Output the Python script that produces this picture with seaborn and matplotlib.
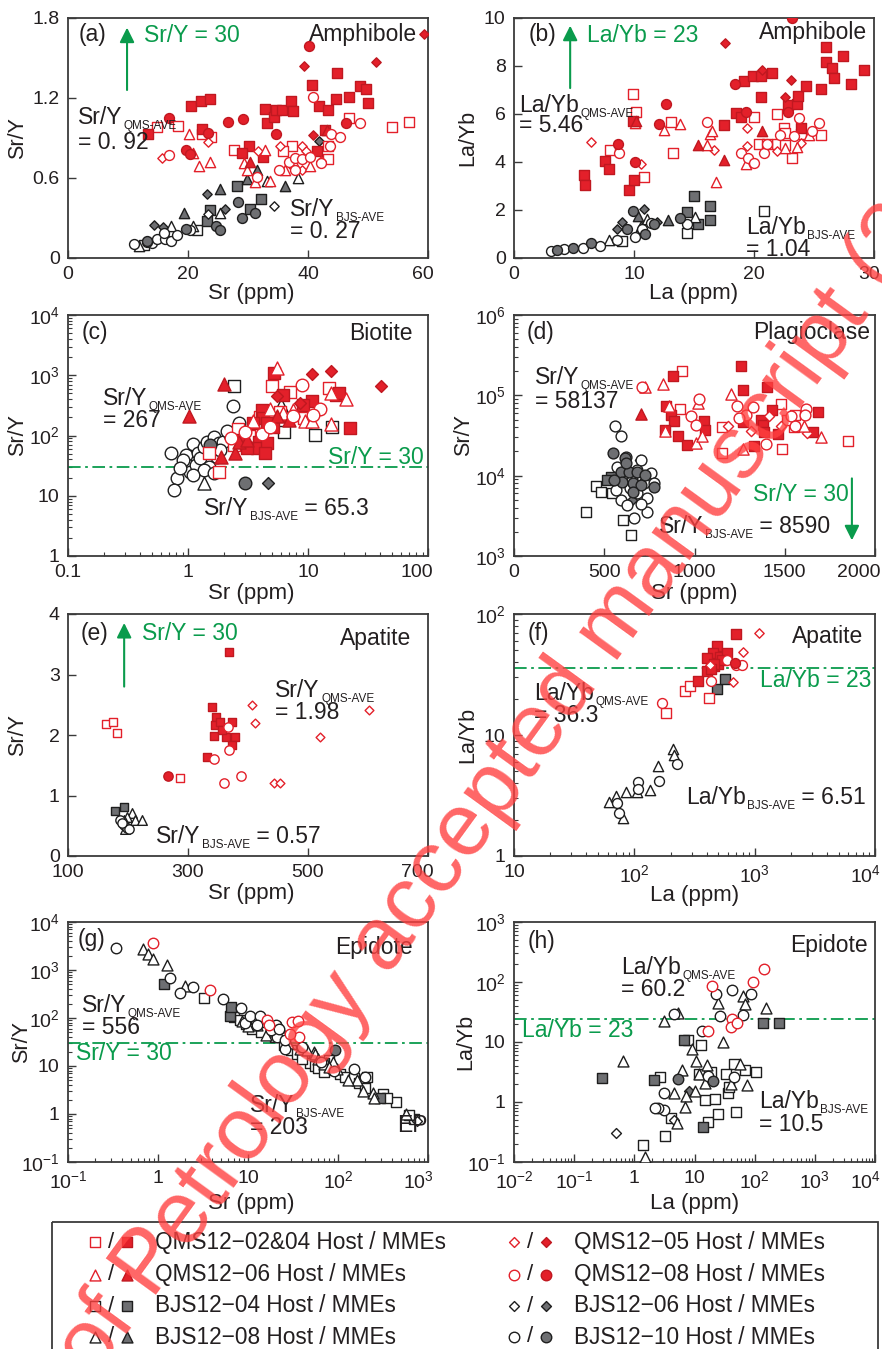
import matplotlib
matplotlib.use("Agg")
import matplotlib.pyplot as plt
import numpy as np
import pandas as pd
import seaborn as sns
from matplotlib.patches import Rectangle
from matplotlib.ticker import NullLocator, NullFormatter
from matplotlib.transforms import ScaledTranslation

# ---------------------------------------------------------------- data
# (a) amphibole, Sr (ppm) vs Sr/Y
AMPH_SR_Q0204_HOST = [(14.8, 0.98), (18.3, 0.99), (22.3, 0.93), (23.8, 0.91), (27.6, 0.81), (37.3, 0.84),
                      (35.9, 0.80), (43.4, 0.74), (43.4, 0.84), (46.8, 1.05), (54.0, 0.98), (56.8, 1.02)]
AMPH_SR_Q0204_MME = [(13.4, 0.93), (20.5, 1.14), (22.1, 1.18), (23.7, 1.19), (22.3, 0.97), (30.1, 0.84),
                     (29.0, 0.79), (32.5, 0.76), (32.8, 1.12), (33.2, 1.01), (34.3, 1.06), (34.6, 1.11),
                     (35.6, 1.11), (37.2, 1.18), (37.5, 1.10), (40.6, 1.30), (41.8, 1.14), (43.3, 1.11),
                     (44.8, 1.39), (44.6, 1.19), (41.5, 0.80), (42.9, 0.96), (46.9, 1.21), (48.6, 1.29),
                     (49.7, 1.27), (50.0, 1.16)]
AMPH_SR_Q05_HOST = [(15.6, 0.75), (23.4, 0.87), (31.7, 0.80), (35.4, 0.84), (39.0, 0.84), (39.6, 0.80),
                    (39.0, 0.66), (42.1, 0.73), (45.4, 0.91)]
AMPH_SR_Q05_MME = [(59.3, 1.68), (51.3, 1.47), (39.4, 1.44), (40.9, 0.92)]
AMPH_SR_Q06_HOST = [(20.1, 0.93), (20.9, 0.79), (21.8, 0.69), (23.7, 0.72), (29.3, 0.71), (29.8, 0.66),
                    (32.9, 0.81), (33.6, 0.58), (31.2, 0.57), (36.2, 0.66), (37.6, 0.71), (40.4, 0.69)]
AMPH_SR_Q06_MME = [(30.4, 0.72), (43.2, 0.96)]
AMPH_SR_Q08_HOST = [(16.9, 0.77), (31.5, 0.61), (35.1, 0.66), (36.9, 0.72), (37.9, 0.75), (39.0, 0.74),
                    (40.4, 0.76), (40.9, 1.21), (43.7, 0.84), (43.9, 0.93), (45.3, 0.91), (48.7, 1.01),
                    (42.1, 0.71), (37.9, 0.66)]
AMPH_SR_Q08_MME = [(16.8, 1.05), (19.6, 0.81), (20.4, 0.78), (23.4, 0.94), (26.6, 1.02), (29.2, 1.04),
                   (34.6, 0.93), (40.1, 1.59), (46.4, 1.01)]
AMPH_SR_B04_HOST = [(21.5, 0.21), (12.6, 0.10)]
AMPH_SR_B04_MME = [(28.1, 0.54), (23.6, 0.36), (23.1, 0.28), (30.4, 0.37), (32.2, 0.44)]
AMPH_SR_B06_HOST = [(34.3, 0.39), (23.4, 0.33)]
AMPH_SR_B06_MME = [(14.4, 0.25), (23.2, 0.48), (26.1, 0.37), (41.9, 0.88), (15.9, 0.23)]
AMPH_SR_B08_HOST = [(38.3, 0.60), (33.2, 0.58), (25.4, 0.34), (17.1, 0.24), (11.8, 0.09), (20.9, 0.24)]
AMPH_SR_B08_MME = [(19.4, 0.34), (25.4, 0.52), (29.8, 0.59), (31.5, 0.66), (36.2, 0.54)]
AMPH_SR_B10_HOST = [(11.0, 0.105), (14.0, 0.11), (14.8, 0.14), (16.2, 0.14), (17.1, 0.13), (18.2, 0.175),
                    (20.4, 0.21), (16.0, 0.19), (13.2, 0.12)]
AMPH_SR_B10_MME = [(13.2, 0.125), (19.6, 0.22), (24.6, 0.24), (25.4, 0.21), (28.3, 0.42), (29.0, 0.30),
                   (31.2, 0.34)]

# (b) amphibole, La (ppm) vs La/Yb
AMPH_LA_Q0204_HOST = [(9.9, 6.84), (10.2, 6.1), (8.0, 4.52), (10.8, 3.37), (13.1, 5.65), (13.25, 4.39),
                      (20.0, 5.89), (21.9, 5.99), (20.4, 4.74), (21.9, 4.74), (22.5, 5.4), (22.6, 4.7),
                      (23.2, 4.17), (23.9, 5.16), (25.6, 5.12), (22.6, 5.19), (21.1, 4.77)]
AMPH_LA_Q0204_MME = [(5.8, 3.44), (5.9, 3.06), (7.6, 4.04), (7.9, 3.72), (9.6, 2.85), (10.0, 3.23),
                     (9.9, 5.71), (17.5, 5.54), (18.5, 6.03), (18.9, 5.89), (19.2, 7.39), (19.9, 7.57),
                     (20.6, 7.57), (20.6, 6.69), (21.5, 7.71), (22.8, 6.38), (23.6, 6.41), (23.7, 6.77),
                     (24.3, 7.15), (23.9, 5.4), (25.6, 7.05), (26.0, 8.16), (26.0, 8.79), (26.5, 7.9),
                     (26.7, 7.5), (27.4, 8.42), (28.1, 7.27), (29.2, 7.85)]
AMPH_LA_Q05_HOST = [(6.4, 4.84), (10.6, 3.93), (16.7, 4.52), (19.4, 5.4), (19.4, 4.66), (21.9, 4.45),
                    (23.9, 4.81)]
AMPH_LA_Q05_MME = [(17.6, 8.95), (23.1, 7.43), (20.7, 7.85), (22.6, 6.7)]
AMPH_LA_Q06_HOST = [(10.1, 5.61), (12.5, 5.33), (13.8, 5.58), (16.1, 4.70), (16.3, 5.16), (16.5, 5.29),
                    (16.8, 3.16), (19.3, 3.9), (22.6, 4.6), (23.6, 4.63), (24.6, 5.12)]
AMPH_LA_Q06_MME = [(15.3, 4.7), (17.5, 4.1), (20.7, 5.3), (10.2, 5.71)]
AMPH_LA_Q08_HOST = [(8.75, 4.39), (16.1, 5.68), (18.9, 4.39), (19.5, 4.18), (20.0, 3.96), (20.8, 4.39),
                    (21.1, 4.74), (22.2, 5.12), (23.3, 5.09), (23.75, 5.85), (24.8, 5.3), (25.4, 5.64)]
AMPH_LA_Q08_MME = [(8.7, 4.73), (10.1, 4.0), (12.7, 6.42), (12.1, 5.57), (18.4, 7.25), (19.3, 6.1),
                   (22.8, 6.1), (23.2, 10.0)]
AMPH_LA_B04_HOST = [(14.4, 1.05), (20.8, 1.96), (9.0, 0.7)]
AMPH_LA_B04_MME = [(14.4, 1.92), (15.0, 2.57), (15.3, 1.40), (16.3, 2.15), (16.3, 1.58)]
AMPH_LA_B06_MME = [(10.8, 2.03), (9.0, 1.5), (8.6, 1.19), (11.9, 1.5)]
AMPH_LA_B08_HOST = [(7.9, 0.77), (11.1, 1.61), (15.05, 1.72)]
AMPH_LA_B08_MME = [(10.3, 1.75), (12.8, 1.58), (10.55, 1.33)]
AMPH_LA_B10_HOST = [(3.05, 0.28), (4.2, 0.38), (5.75, 0.42), (7.2, 0.52), (8.6, 0.74), (10.05, 0.87),
                    (11.4, 1.44), (14.4, 1.40), (10.7, 1.19)]
AMPH_LA_B10_MME = [(9.9, 1.96), (9.4, 1.19), (10.9, 0.98), (11.7, 1.4), (13.8, 1.65), (6.4, 0.63),
                   (4.9, 0.42), (3.6, 0.35)]

# (c) biotite, Sr (ppm) vs Sr/Y
BIO_Q0204_HOST = [(1.51, 50.8), (1.80, 25.1), (5.01, 656), (7.13, 521), (14.9, 615), (9.2, 194), (2.4, 69.9),
                  (2.6, 127), (3.2, 100), (4.0, 200), (5.8, 250)]
BIO_Q0204_MME = [(5.24, 1094), (6.19, 476), (4.14, 268), (4.25, 194), (4.55, 160), (5.1, 141), (3.88, 79.4),
                 (3.76, 61.5), (4.55, 74.5), (4.41, 50.8), (3.10, 61.5), (2.82, 84.7), (10.8, 369),
                 (9.08, 324), (17.2, 476), (18.3, 508), (22.2, 132), (3.5, 160)]
BIO_Q05_MME = [(10.9, 1066), (15.4, 1166), (40.8, 673), (5.52, 459), (8.6, 346), (6.78, 182)]
BIO_Q06_HOST = [(5.52, 1325), (3.46, 171), (4.85, 275), (6.19, 236), (7.5, 261), (9.5, 171), (15.4, 508),
                (15.6, 156), (20.7, 403), (10.7, 171)]
BIO_Q06_MME = [(1.01, 213), (2.01, 726), (2.48, 50.8), (1.87, 44.7), (2.64, 79.4), (3.10, 84.7), (5.52, 207),
               (6.9, 182)]
BIO_Q08_HOST = [(8.9, 699), (12.7, 278), (11.1, 221), (2.30, 90.3), (3.0, 116), (4.14, 107), (4.85, 141),
                (7.5, 207)]
BIO_B04_HOST = [(2.40, 656), (6.35, 116), (11.5, 103), (15.8, 141)]
BIO_B06_MME = [(4.64, 16.5)]
BIO_B08_HOST = [(1.35, 16.5), (6.0, 316)]
BIO_B10_HOST = [(0.72, 50.8), (0.81, 19.4), (0.76, 12.4), (0.96, 47.6), (0.99, 32.4), (1.045, 25.1),
                (1.10, 72.6), (1.205, 50.8), (1.17, 32.4), (1.27, 41.9), (1.35, 65.6), (1.44, 79.4),
                (1.64, 96.2), (1.80, 74.5), (1.96, 79.4), (2.25, 102.6), (2.64, 160), (2.36, 312),
                (1.75, 44.7), (1.49, 30.4), (0.91, 39.3), (1.86, 57.7), (1.35, 26.8), (1.64, 23.6),
                (0.85, 29.0), (1.10, 22.0), (2.10, 120)]
BIO_B10_MME = [(2.97, 16.5), (1.52, 69.9)]

# (d) plagioclase, Sr (ppm) vs Sr/Y
PLAG_Q0204_HOST = [(928, 200000), (917, 67500), (1155, 19400), (1151, 40200), (1478, 78000), (1482, 21400),
                   (1556, 57300), (1549, 40200), (1852, 27400), (1515, 49600)]
PLAG_Q0204_MME = [(881, 176000), (844, 72900), (872, 57300), (887, 47300), (909, 31600), (961, 24100),
                  (837, 37300), (1053, 47300), (1057, 37300), (1257, 231000), (1266, 118000),
                  (1401, 127000), (1266, 46000), (1331, 23700), (1368, 49600), (1382, 42200),
                  (1386, 34500), (1432, 65000), (1464, 33200), (1659, 34500), (1685, 61900)]
PLAG_Q05_HOST = [(1187, 41000), (1312, 35500), (1414, 54700), (1626, 33800), (1478, 41000)]
PLAG_Q06_HOST = [(724, 127000), (828, 139000), (856, 74300), (835, 35500), (1020, 80200), (1011, 25300),
                 (1044, 31300), (1201, 105000), (1266, 21400), (1700, 30700), (1604, 41000)]
PLAG_Q06_MME = [(702, 59000)]
PLAG_Q08_HOST = [(708, 127000), (1026, 90000), (983, 55700), (1007, 43000), (1233, 74300), (1285, 57300),
                 (1322, 70800), (1395, 24900), (1248, 52000), (1534, 54700), (1556, 41000), (1617, 68000),
                 (1610, 57300)]
PLAG_B04_HOST = [(397, 3550), (453, 7400), (480, 6300), (606, 2790), (647, 1810), (545, 6000)]
PLAG_B04_MME = [(540, 9700), (517, 8800)]
PLAG_B06_MME = [(699, 15700), (656, 4970)]
PLAG_B10_HOST = [(558, 41000), (591, 31600), (573, 13000), (591, 4970), (628, 4300), (665, 2930),
                 (739, 3550), (758, 10700), (739, 5200), (702, 4500), (656, 8800), (721, 8000), (564, 6600),
                 (619, 17300), (684, 11800), (776, 8000), (702, 15700), (601, 9700), (680, 6000), (640, 7000)]
PLAG_B10_MME = [(551, 19000), (615, 16500), (591, 11200), (638, 11200), (680, 11200), (661, 8000),
                (702, 7600), (601, 8400), (554, 8800), (776, 7300), (661, 6300), (619, 14300), (724, 10200)]

# (e) apatite, Sr (ppm) vs Sr/Y
AP_SR_Q0204_HOST = [(163.9, 2.18), (175, 2.21), (181.7, 2.03), (287.2, 1.29)]
AP_SR_Q0204_MME = [(367.8, 3.37), (340, 2.46), (347, 2.30), (345.6, 2.17), (342.8, 1.99), (331.7, 1.64),
                   (353.9, 2.22), (373.3, 2.22), (363.9, 1.97), (377.8, 1.97), (373.3, 1.83), (356.7, 2.08)]
AP_SR_Q05_HOST = [(406.7, 2.49), (411, 2.2), (520.6, 1.96), (601, 2.41), (442.8, 1.20), (453.9, 1.21)]
AP_SR_Q08_HOST = [(343.9, 1.60), (367.8, 1.76), (366, 2.14), (359.4, 1.21), (388.3, 1.32)]
AP_SR_Q08_MME = [(266.7, 1.33)]
AP_SR_B04_MME = [(177.8, 0.74), (192.8, 0.81)]
AP_SR_B08_HOST = [(194.4, 0.44), (206.7, 0.71), (212.2, 0.59), (223.3, 0.60), (198, 0.65), (192.8, 0.59)]
AP_SR_B10_HOST = [(187.2, 0.59), (192.8, 0.51), (198.3, 0.47), (201, 0.44), (190, 0.54)]

# (f) apatite, La (ppm) vs La/Yb
AP_LA_Q0204_HOST = [(182, 15.1), (264, 23.3), (291, 25.3), (419, 20.1)]
AP_LA_Q0204_MME = [(698, 68.1), (485, 54.5), (447, 47.9), (405, 43.5), (516, 44.1), (587, 47.9), (335, 27.8),
                   (405, 33.5), (455, 36.9), (498, 38.3), (534, 41.4), (460, 38.8), (433, 35.0)]
AP_LA_Q05_HOST = [(1091, 69), (807, 48.5), (655, 27.3), (427, 37.6)]
AP_LA_Q08_HOST = [(169, 18.4), (437, 27.7), (594, 41.9), (698, 38.1), (778, 38.1)]
AP_LA_Q08_MME = [(684, 39.6)]
AP_LA_B04_MME = [(485, 24.0), (565, 29.1)]
AP_LA_B08_HOST = [(61, 2.77), (70.2, 3.14), (85, 3.35), (81.2, 2.05), (135, 3.53), (156, 5.52), (211, 7.7),
                  (214, 6.77), (106, 3.41)]
AP_LA_B10_HOST = [(71.5, 2.73), (74.7, 2.28), (108, 4.06), (108, 3.6), (161, 4.19), (225, 5.8)]

# (g) epidote, Sr (ppm) vs Sr/Y
EP_SR_Q08_HOST = [(0.88, 3655), (3.75, 377), (16.3, 89.3), (17.0, 72.6), (30.8, 82.6), (36.0, 86.7),
                  (36.6, 40.2), (29.5, 47.2)]
EP_SR_B04_HOST = [(3.27, 261), (6.93, 105), (8.07, 89.3), (45.3, 15.4), (48.5, 11.6), (78.7, 13.1), (104, 6.7),
                  (210, 5.9), (316, 2.65), (445, 1.78), (693, 0.80), (609, 0.94), (9.5, 75), (11, 60),
                  (14, 50), (20, 40), (25, 28), (30, 22), (35, 18), (40, 14), (55, 10), (60, 9), (70, 7.5),
                  (120, 6), (150, 5.5), (170, 4.5), (200, 3.5), (350, 2.2)]
EP_SR_B04_MME = [(1.16, 502), (6.25, 110), (6.53, 169), (69.3, 11.6), (290, 2.15)]
EP_SR_B06_HOST = [(82, 8.1), (755, 0.71)]
EP_SR_B08_HOST = [(0.68, 2783), (0.77, 2188), (0.88, 1722), (1.26, 1250), (2.01, 457), (12.6, 72.6),
                  (17.4, 52.7), (22.9, 64.9), (38.1, 23), (53.7, 19.6), (74.1, 11.7), (97.5, 8.8), (163, 5.0),
                  (245, 2.74), (574, 1.02), (89, 12), (8.5, 85), (10, 68), (16, 45), (28, 30), (45, 22),
                  (55, 18), (60, 14), (70, 11), (80, 9.5), (130, 5), (190, 3.0), (250, 2.2)]
EP_SR_B10_HOST = [(0.344, 2917), (1.37, 681), (1.74, 332), (2.45, 442), (5.27, 245), (8.36, 161), (9.18, 80),
                  (10.4, 110), (13.7, 110), (20.6, 70.3), (21, 40.2), (26, 23), (149, 8.8), (12.5, 70),
                  (18, 55), (22, 60), (26, 35), (40, 25), (65, 12), (90, 8), (200, 6)]
EP_SR_B10_MME = [(93.3, 21.2)]

# (h) epidote, La (ppm) vs La/Yb
EP_LA_Q08_HOST = [(19.7, 84.7), (16.7, 15.2), (41.9, 23.9), (39.8, 17.8), (51.4, 20.7), (93.8, 100),
                  (143, 167)]
EP_LA_B04_HOST = [(1.38, 0.19), (3.24, 0.27), (4.08, 0.55), (2.71, 2.61), (7.75, 10.7), (12.9, 8.8),
                  (12.1, 2.97), (14.7, 1.07), (21.5, 1.14), (16.7, 0.46), (24.5, 0.64), (35.9, 1.41),
                  (36.9, 1.78), (49.4, 0.68), (45.3, 4.35), (68.1, 3.37), (107, 3.18), (32.9, 2.97),
                  (19.0, 3.18)]
EP_LA_B04_MME = [(0.289, 2.54), (2.15, 2.35), (6.8, 10.7), (13.8, 0.39), (138, 21), (251, 21)]
EP_LA_B06_HOST = [(0.49, 0.30), (4.64, 0.5)]
EP_LA_B06_MME = [(8.25, 1.5)]
EP_LA_B08_HOST = [(3.16, 22.4), (0.64, 4.82), (5.41, 30.4), (1.51, 0.12), (5.14, 0.44), (4.64, 1.41),
                  (7.26, 1.24), (7.08, 0.81), (6.15, 3.37), (9.03, 7.74), (10.7, 4.76), (11.8, 2.9),
                  (16.3, 4.08), (15.1, 2.07), (29.6, 10), (24.5, 44.7), (64, 57.7), (68.1, 42.5),
                  (156, 36.9), (56.2, 4.25), (75.5, 1.9), (10, 1.5), (40.8, 2.0)]
EP_LA_B10_HOST = [(3.08, 1.41), (3.16, 0.74), (2.45, 0.78), (2.2, 0.79), (4.53, 28.9), (13.2, 15.2),
                  (23, 62.2), (26.1, 26.8), (41.9, 74.5), (64, 28.6), (88, 64), (45.3, 2.61), (16.7, 2.7)]
EP_LA_B10_MME = [(5.41, 2.45), (20.2, 2.24)]

# axis ticks and labels
AMPH_SR_XTICKS, AMPH_SR_XLABELS = [0, 20, 40, 60], ["0", "20", "40", "60"]
AMPH_SR_YTICKS, AMPH_SR_YLABELS = [0, 0.6, 1.2, 1.8], ["0", "0.6", "1.2", "1.8"]
AMPH_LA_XTICKS, AMPH_LA_XLABELS = [0, 10, 20, 30], ["0", "10", "20", "30"]
AMPH_LA_YTICKS, AMPH_LA_YLABELS = [0, 2, 4, 6, 8, 10], ["0", "2", "4", "6", "8", "10"]
BIO_XTICKS, BIO_XLABELS = [0.1, 1, 10, 100], ["0.1", "1", "10", "100"]
BIO_YTICKS = [1, 10, 100, 1e3, 1e4]
PLAG_XTICKS, PLAG_XLABELS = [0, 500, 1000, 1500, 2000], ["0", "500", "1000", "1500", "2000"]
PLAG_YTICKS = [1e3, 1e4, 1e5, 1e6]
AP_SR_XTICKS, AP_SR_XLABELS = [100, 300, 500, 700], ["100", "300", "500", "700"]
AP_SR_YTICKS, AP_SR_YLABELS = [0, 1, 2, 3, 4], ["0", "1", "2", "3", "4"]
AP_LA_XTICKS = [10, 100, 1e3, 1e4]
AP_LA_YTICKS = [1, 10, 100]
EP_SR_XTICKS = [0.1, 1, 10, 100, 1e3]
EP_SR_YTICKS = [0.1, 1, 10, 100, 1e3, 1e4]
EP_LA_XTICKS = [0.01, 0.1, 1, 10, 100, 1e3, 1e4]
EP_LA_YTICKS = [0.1, 1, 10, 100, 1e3]

LEGEND_CODES = ["Q0204", "Q06", "B04", "B08", "Q05", "Q08", "B06", "B10"]
LEGEND_LABELS = ["QMS12\u221202&04 Host / MMEs", "QMS12\u221206 Host / MMEs", "BJS12\u221204 Host / MMEs",
                 "BJS12\u221208 Host / MMEs", "QMS12\u221205 Host / MMEs", "QMS12\u221208 Host / MMEs",
                 "BJS12\u221206 Host / MMEs", "BJS12\u221210 Host / MMEs"]

# ---------------------------------------------------------------- style
RED = "#e3202a"
RED_EDGE = "#c01820"
GREY = "#6e6f72"
BLACK = "#1e1e1e"
GREEN = "#0a9b4c"
TXT = "#231f20"
AX = "#3a3a3a"

MARKERS = {"Q0204": "s", "Q05": "D", "Q06": "^", "Q08": "o",
           "B04": "s", "B06": "D", "B08": "^", "B10": "o"}
MSCALE = {"s": 1.0, "D": 0.72, "^": 1.12, "o": 1.08}
DRAW_ORDER = ["B04", "B06", "B08", "B10", "Q0204", "Q05", "Q06", "Q08"]

sns.set_theme(style="ticks")
plt.rcParams["font.family"] = ["Liberation Sans", "DejaVu Sans"]
plt.rcParams["axes.unicode_minus"] = True

W, H = 882, 1349
fig = plt.figure(figsize=(W / 100, H / 100), dpi=100)
fig.patch.set_facecolor("white")


def px_axes(l, t, r, b):
    return fig.add_axes([l / W, 1 - b / H, (r - l) / W, (b - t) / H])


def collect(prefix):
    return {k[len(prefix):]: v for k, v in globals().items()
            if k.startswith(prefix) and isinstance(v, list) and v and isinstance(v[0], tuple)}


def sup(v):
    e = int(round(np.log10(v)))
    if e == 0:
        return "1"
    if e == 1:
        return "10"
    return r"$\mathregular{10^{%d}}$" % e


def draw_series(ax, series, ms):
    for code in DRAW_ORDER:
        for kind in ("HOST", "MME"):
            pts = series.get(f"{code}_{kind}")
            if not pts:
                continue
            df = pd.DataFrame(pts, columns=["x", "y"])
            qms = code.startswith("Q")
            m = MARKERS[code]
            if kind == "HOST":
                face, edge = "white", (RED if qms else BLACK)
            else:
                face, edge = (RED, RED_EDGE) if qms else (GREY, BLACK)
            sns.scatterplot(data=df, x="x", y="y", ax=ax, marker=m, s=(ms * MSCALE[m]) ** 2,
                            facecolor=face, edgecolor=edge, linewidth=1.0, legend=False, zorder=3)


def finish(ax, xlim, ylim, xticks, xlabels, yticks, ylabels, xlabel, ylabel,
           xlog=False, ylog=False, xlab_y=-0.105, ylab_x=-0.111, right_col=False):
    if xlog:
        ax.set_xscale("log")
    if ylog:
        ax.set_yscale("log")
    ax.set_xlim(xlim)
    ax.set_ylim(ylim)
    ax.set_xticks(xticks, xlabels)
    ax.set_yticks(yticks, ylabels)
    if not xlog:
        ax.xaxis.set_minor_locator(NullLocator())
    if not ylog:
        ax.yaxis.set_minor_locator(NullLocator())
    ax.xaxis.set_minor_formatter(NullFormatter())
    ax.yaxis.set_minor_formatter(NullFormatter())
    ax.tick_params(which="both", direction="in", top=False, right=False, color=AX,
                   labelsize=14, labelcolor=TXT)
    ax.tick_params(which="major", length=5.5, width=1.0, pad=6)
    ax.tick_params(which="minor", length=3, width=0.8)
    # last x tick label sits flush with the right frame, as in the figure
    last = ax.get_xticklabels()[-1]
    last.set_horizontalalignment("right")
    last.set_transform(last.get_transform() + ScaledTranslation(4 / 72, 0, fig.dpi_scale_trans))
    ax.set_xlabel(xlabel, fontsize=16, color=TXT)
    ax.set_ylabel(ylabel, fontsize=15.5, color=TXT)
    ax.xaxis.set_label_coords(0.5 if right_col else 0.51, xlab_y)
    ax.yaxis.set_label_coords(ylab_x, 0.5)
    ax.xaxis.label.set_va("top")
    for sp in ax.spines.values():
        sp.set_linewidth(1.3)
        sp.set_color(AX)
    ax.grid(False)


def tag(ax, x, y, s, ha="left", color=TXT, fs=16.5):
    ax.text(x, y, s, transform=ax.transAxes, ha=ha, va="center", fontsize=fs, color=color, zorder=6)


def ave(ax, x, y, main, sub, tail=None, fs=16.5):
    t = ax.text(x, y, main, transform=ax.transAxes, ha="left", va="baseline", fontsize=fs, color=TXT, zorder=6)
    s = ax.annotate(sub, xy=(1, 0), xycoords=t, xytext=(1.0, 0), textcoords="offset points",
                    ha="left", va="baseline", fontsize=8.5, color=TXT, zorder=6)
    if tail:
        ax.annotate(tail, xy=(1, 0), xycoords=(s, t), xytext=(0, 0), textcoords="offset points",
                    ha="left", va="bottom", fontsize=fs, color=TXT, zorder=6)


def value(ax, x, y, s):
    ax.text(x, y, s, transform=ax.transAxes, fontsize=16.5, color=TXT, va="baseline", zorder=6)


def arrow(ax, x, y0, y1):
    ax.annotate("", xy=(x, y1), xytext=(x, y0), xycoords="axes fraction",
                arrowprops=dict(arrowstyle="-|>", color=GREEN, lw=1.5, mutation_scale=22,
                                shrinkA=0, shrinkB=0), zorder=6)


def guide(ax, y):
    ax.axhline(y, color=GREEN, lw=1.3, dashes=(7, 2.5, 1.5, 2.5), zorder=2)


# ---------------------------------------------------------------- (a)
ax = px_axes(68, 18, 428, 258)
draw_series(ax, collect("AMPH_SR_"), 6.6)
finish(ax, (0, 60), (0, 1.8), AMPH_SR_XTICKS, AMPH_SR_XLABELS, AMPH_SR_YTICKS, AMPH_SR_YLABELS,
       "Sr (ppm)", "Sr/Y")
tag(ax, 0.03, 0.93, "(a)")
tag(ax, 0.969, 0.93, "Amphibole", ha="right")
arrow(ax, 0.164, 0.70, 0.96)
tag(ax, 0.212, 0.926, "Sr/Y = 30", color=GREEN)
ave(ax, 0.027, 0.557, "Sr/Y", "QMS-AVE")
value(ax, 0.027, 0.453, "= 0. 92")
ave(ax, 0.616, 0.175, "Sr/Y", "BJS-AVE")
value(ax, 0.616, 0.085, "= 0. 27")

# ---------------------------------------------------------------- (b)
ax = px_axes(514, 18, 874, 258)
draw_series(ax, collect("AMPH_LA_"), 6.6)
finish(ax, (0, 30), (0, 10), AMPH_LA_XTICKS, AMPH_LA_XLABELS, AMPH_LA_YTICKS, AMPH_LA_YLABELS,
       "La (ppm)", "La/Yb", ylab_x=-0.10, right_col=True)
tag(ax, 0.042, 0.933, "(b)")
tag(ax, 0.981, 0.94, "Amphibole", ha="right")
arrow(ax, 0.156, 0.708, 0.968)
tag(ax, 0.204, 0.925, "La/Yb = 23", color=GREEN)
ave(ax, 0.014, 0.607, "La/Yb", "QMS-AVE")
value(ax, 0.014, 0.523, "= 5.46")
ave(ax, 0.644, 0.10, "La/Yb", "BJS-AVE")
value(ax, 0.644, 0.008, "= 1.04")

# ---------------------------------------------------------------- (c)
ax = px_axes(68, 315, 428, 556)
guide(ax, 30)
draw_series(ax, collect("BIO_"), 8.4)
finish(ax, (0.1, 100), (1, 1e4), BIO_XTICKS, BIO_XLABELS, BIO_YTICKS, [sup(v) for v in BIO_YTICKS],
       "Sr (ppm)", "Sr/Y", xlog=True, ylog=True, xlab_y=-0.11)
tag(ax, 0.039, 0.926, "(c)")
tag(ax, 0.956, 0.922, "Biotite", ha="right")
tag(ax, 0.988, 0.41, "Sr/Y = 30", ha="right", color=GREEN)
ave(ax, 0.097, 0.626, "Sr/Y", "QMS-AVE")
value(ax, 0.097, 0.535, "= 267")
ave(ax, 0.377, 0.171, "Sr/Y", "BJS-AVE", " = 65.3")

# ---------------------------------------------------------------- (d)
ax = px_axes(514, 315, 875, 556)
draw_series(ax, collect("PLAG_"), 7.2)
finish(ax, (0, 2000), (1e3, 1e6), PLAG_XTICKS, PLAG_XLABELS, PLAG_YTICKS, [sup(v) for v in PLAG_YTICKS],
       "Sr (ppm)", "Sr/Y", ylog=True, xlab_y=-0.112, right_col=True)
tag(ax, 0.035, 0.926, "(d)")
tag(ax, 0.987, 0.926, "Plagioclase", ha="right")
ave(ax, 0.058, 0.7125, "Sr/Y", "QMS-AVE")
value(ax, 0.058, 0.615, "= 58137")
ave(ax, 0.402, 0.094, "Sr/Y", "BJS-AVE", " = 8590")
tag(ax, 0.661, 0.257, "Sr/Y = 30", color=GREEN)
arrow(ax, 0.936, 0.322, 0.065)

# ---------------------------------------------------------------- (e)
ax = px_axes(68, 614, 428, 856)
draw_series(ax, collect("AP_SR_"), 6.2)
finish(ax, (100, 700), (0, 4), AP_SR_XTICKS, AP_SR_XLABELS, AP_SR_YTICKS, AP_SR_YLABELS,
       "Sr (ppm)", "Sr/Y", xlab_y=-0.112)
tag(ax, 0.034, 0.921, "(e)")
tag(ax, 0.953, 0.90, "Apatite", ha="right")
arrow(ax, 0.156, 0.70, 0.963)
tag(ax, 0.206, 0.921, "Sr/Y = 30", color=GREEN)
ave(ax, 0.576, 0.657, "Sr/Y", "QMS-AVE")
value(ax, 0.576, 0.568, "= 1.98")
ave(ax, 0.245, 0.055, "Sr/Y", "BJS-AVE", " = 0.57")

# ---------------------------------------------------------------- (f)
ax = px_axes(514, 614, 875, 856)
guide(ax, 36)
draw_series(ax, collect("AP_LA_"), 6.6)
finish(ax, (10, 1e4), (1, 100), AP_LA_XTICKS, [sup(v) for v in AP_LA_XTICKS], AP_LA_YTICKS,
       [sup(v) for v in AP_LA_YTICKS], "La (ppm)", "La/Yb", xlog=True, ylog=True, xlab_y=-0.12,
       ylab_x=-0.10, right_col=True)
tag(ax, 0.039, 0.92, "(f)")
tag(ax, 0.966, 0.906, "Apatite", ha="right")
tag(ax, 0.989, 0.725, "La/Yb = 23", ha="right", color=GREEN)
ave(ax, 0.055, 0.643, "La/Yb", "QMS-AVE")
value(ax, 0.055, 0.553, "= 36.3")
ave(ax, 0.476, 0.215, "La/Yb", "BJS-AVE", " = 6.51")

# ---------------------------------------------------------------- (g)
ax = px_axes(68, 922, 428, 1162)
guide(ax, 30)
draw_series(ax, collect("EP_SR_"), 7.0)
finish(ax, (0.1, 1e3), (0.1, 1e4), EP_SR_XTICKS, [sup(v) for v in EP_SR_XTICKS], EP_SR_YTICKS,
       [sup(v) for v in EP_SR_YTICKS], "Sr (ppm)", "Sr/Y", xlog=True, ylog=True, xlab_y=-0.128, ylab_x=-0.10)
tag(ax, 0.027, 0.926, "(g)")
tag(ax, 0.957, 0.893, "Epidote", ha="right")
ave(ax, 0.039, 0.626, "Sr/Y", "QMS-AVE")
value(ax, 0.039, 0.532, "= 556")
tag(ax, 0.023, 0.451, "Sr/Y = 30", color=GREEN)
ave(ax, 0.506, 0.21, "Sr/Y", "BJS-AVE")
value(ax, 0.506, 0.115, "= 203")
tag(ax, 0.914, 0.153, "EP")

# ---------------------------------------------------------------- (h)
ax = px_axes(514, 922, 875, 1162)
guide(ax, 24)
draw_series(ax, collect("EP_LA_"), 7.0)
finish(ax, (0.01, 1e4), (0.1, 1e3), EP_LA_XTICKS, [sup(v) for v in EP_LA_XTICKS], EP_LA_YTICKS,
       [sup(v) for v in EP_LA_YTICKS], "La (ppm)", "La/Yb", xlog=True, ylog=True, xlab_y=-0.128,
       ylab_x=-0.105, right_col=True)
tag(ax, 0.039, 0.917, "(h)")
tag(ax, 0.98, 0.903, "Epidote", ha="right")
ave(ax, 0.296, 0.785, "La/Yb", "QMS-AVE")
value(ax, 0.296, 0.693, "= 60.2")
tag(ax, 0.023, 0.549, "La/Yb = 23", color=GREEN)
ave(ax, 0.678, 0.224, "La/Yb", "BJS-AVE")
value(ax, 0.678, 0.131, "= 10.5")

# ---------------------------------------------------------------- legend box
lax = fig.add_axes([0, 0, 1, 1], zorder=5)
lax.set_xlim(0, W)
lax.set_ylim(H, 0)
lax.axis("off")
lax.patch.set_alpha(0)
lax.add_patch(Rectangle((52, 1222), 826, 170, fill=False, lw=1.3, ec=AX, clip_on=False))
row_y = [1242, 1275, 1306, 1337]
for i, (code, label) in enumerate(zip(LEGEND_CODES, LEGEND_LABELS)):
    col, row = divmod(i, 4)
    x0 = 95 if col == 0 else 514
    y = row_y[row]
    qms = code.startswith("Q")
    m = MARKERS[code]
    s = (7.0 * MSCALE[m]) ** 2
    lax.scatter([x0], [y], marker=m, s=s, facecolor="white", edgecolor=RED if qms else BLACK, lw=1.0)
    lax.scatter([x0 + 32], [y], marker=m, s=s, facecolor=RED if qms else GREY,
                edgecolor=RED_EDGE if qms else BLACK, lw=1.0)
    lax.text(x0 + 16, y, "/", ha="center", va="center", fontsize=16, color=TXT)
    lax.text(x0 + 60, y, label, ha="left", va="center", fontsize=16.3, color=TXT)

# ---------------------------------------------------------------- watermark
fig.text(472 / W, 1 - 860 / H, "Journal of Petrology accepted manuscript (2019)", rotation=54,
         rotation_mode="anchor", ha="center", va="baseline", fontsize=64, color="#ff4040",
         alpha=0.8, zorder=50)

fig.savefig("out.png", dpi=100)
